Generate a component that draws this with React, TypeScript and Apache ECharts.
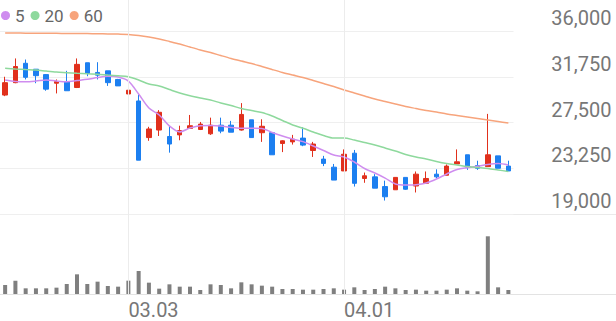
import React, { useEffect, useRef } from "react";
import * as echarts from "echarts";

const dates = [
  "02.10", "02.15", "02.16", "02.17", "02.18", "02.19", "02.22", "02.23", "02.24", "02.25",
  "02.26", "03.02", "03.03", "03.04", "03.05", "03.08", "03.09", "03.10", "03.11", "03.12",
  "03.15", "03.16", "03.17", "03.18", "03.19", "03.22", "03.23", "03.24", "03.25", "03.26",
  "03.29", "03.30", "03.31", "04.01", "04.02", "04.05", "04.06", "04.07", "04.08", "04.09",
  "04.12", "04.13", "04.14", "04.15", "04.16", "04.19", "04.20", "04.21", "04.22", "04.23",
];
const tickLabels = ["03.03", "04.01"];

const opens = [
  30050, 31200, 33000, 32450, 31950, 31150, 31300, 30750, 33050, 32150,
  32300, 31500, 30150, 29500, 26100, 26800, 26200, 26350, 26950, 26850,
  26450, 27250, 27250, 26800, 27750, 26550, 26550, 25550, 25700, 26050,
  24900, 24100, 23350, 23000, 24650, 22300, 22450, 21550, 21250, 22400,
  21600, 21850, 22700, 22600, 23650, 24500, 23500, 23400, 24400, 23450,
];
const closes = [
  31200, 32700, 31700, 31850, 30600, 31300, 30450, 32900, 32050, 31900,
  31200, 30900, 30500, 24000, 26900, 28450, 25500, 26750, 27200, 27350,
  27250, 26700, 26600, 28250, 26100, 27150, 24500, 25800, 25950, 25400,
  25500, 23700, 22150, 24550, 21850, 22550, 21400, 20600, 22400, 21300,
  22700, 22300, 22450, 23450, 23850, 23350, 23250, 24500, 23250, 23000,
];
const lows = [
  29950, 31150, 31500, 31150, 30450, 30200, 30450, 30700, 31800, 31500,
  30900, 30900, 29900, 24000, 25800, 26250, 24700, 25850, 26950, 26800,
  26350, 26500, 26600, 26750, 26100, 25700, 24500, 24750, 25450, 25300,
  24300, 23450, 22150, 23000, 21550, 21900, 21400, 20250, 21250, 21250,
  21000, 21850, 22300, 22600, 23650, 23100, 23100, 23400, 23250, 23000,
];
const highs = [
  31750, 33450, 33350, 32450, 32000, 31500, 32300, 33450, 33050, 33100,
  32300, 31550, 32400, 30100, 27100, 28650, 27200, 27200, 28200, 27550,
  27950, 27950, 27650, 29300, 27750, 27800, 26550, 25850, 26350, 27050,
  25700, 24400, 23650, 25000, 24950, 22850, 22700, 22100, 22400, 22400,
  22950, 22950, 23150, 23600, 25000, 24500, 23950, 28300, 24400, 23950,
];
const ma5 = [
  31450, 31310, 31290, 31350, 31450, 31350, 31290, 31400, 31510, 31680,
  31800, 31730, 31350, 30150, 28850, 28200, 27170, 26620, 26990, 27200,
  27220, 27170, 27030, 26960, 26960, 26940, 26570, 26250, 25970, 25720,
  25320, 24900, 24480, 24300, 23830, 23230, 22810, 22340, 21790, 21690,
  21720, 21880, 22250, 22720, 23130, 23300, 23430, 23600, 23690, 23550,
];
const ma20 = [
  32530, 32470, 32420, 32380, 32280, 32190, 32130, 32070, 32020, 31990,
  31910, 31840, 31750, 31450, 31080, 30890, 30560, 30240, 29990, 29780,
  29590, 29310, 29080, 28800, 28610, 28430, 28100, 27690, 27270, 26960,
  26620, 26290, 26060, 26060, 25870, 25640, 25410, 25130, 24850, 24530,
  24290, 24110, 23880, 23690, 23550, 23410, 23320, 23230, 23090, 22950,
];
const ma60 = [
  35810, 35810, 35800, 35790, 35790, 35780, 35770, 35770, 35760, 35750,
  35730, 35710, 35680, 35580, 35440, 35260, 35030, 34790, 34510, 34240,
  34000, 33720, 33450, 33210, 32980, 32700, 32420, 32150, 31910, 31680,
  31400, 31120, 30840, 30520, 30240, 29960, 29680, 29450, 29220, 28990,
  28800, 28610, 28480, 28290, 28150, 28010, 27870, 27730, 27590, 27450,
];
const volumes = [
  27000, 40000, 17000, 17000, 17000, 19000, 30000, 59000, 30000, 37000,
  24000, 22000, 40000, 69000, 34000, 16000, 29000, 22000, 22000, 12000,
  29000, 27000, 17000, 35000, 29000, 25000, 22000, 15000, 15000, 13000,
  13000, 15000, 17000, 13000, 20000, 12000, 15000, 22000, 17000, 12000,
  13000, 10000, 10000, 13000, 17000, 10000, 8000, 173000, 20000, 12000,
];

const UP = "#e1301c";
const DOWN = "#1c7ff0";
const FONT = "Roboto";

export default function App() {
  const ref = useRef<HTMLDivElement>(null);
  useEffect(() => {
    if (!ref.current) return;
    const chart = echarts.init(ref.current, undefined, { renderer: "svg" });
    const candles = dates.map((_, i) => [opens[i], closes[i], lows[i], highs[i]]);
    const showTick = (idx: number) => tickLabels.indexOf(dates[idx]) >= 0;
    chart.setOption({
      animation: false,
      legend: {
        left: 1,
        top: 7,
        padding: 0,
        itemWidth: 9,
        itemHeight: 9,
        itemGap: 6,
        textStyle: { fontSize: 17, color: "#666", fontFamily: FONT },
        data: [
          { name: "5", icon: "circle" },
          { name: "20", icon: "circle" },
          { name: "60", icon: "circle" },
        ],
      },
      grid: [
        { left: 0, right: 102.5, top: 31, height: 183 },
        { left: 0, right: 102.5, top: 0, height: 294 },
      ],
      xAxis: [
        {
          type: "category",
          gridIndex: 0,
          data: dates,
          boundaryGap: true,
          axisLine: { show: false },
          axisTick: { show: false },
          axisLabel: { show: false },
          splitLine: { show: false },
        },
        {
          type: "category",
          gridIndex: 1,
          data: dates,
          boundaryGap: true,
          axisLine: { show: false },
          axisTick: { show: false },
          splitLine: { show: false },
          axisLabel: {
            interval: (idx: number) => showTick(idx),
            align: "left",
            verticalAlign: "top",
            margin: 8,
            lineHeight: 16,
            fontSize: 20,
            color: "#777",
            fontFamily: FONT,
          },
        },
      ],
      yAxis: [
        {
          type: "value",
          gridIndex: 0,
          position: "right",
          min: 19000,
          max: 36000,
          interval: 4250,
          axisLine: { show: false },
          axisTick: { show: false },
          splitLine: { show: true, lineStyle: { color: "#efefef", width: 1 } },
          axisLabel: {
            align: "right",
            verticalAlign: "bottom",
            margin: 98,
            padding: [0, 0, 3, 0],
            fontSize: 20,
            color: "#777",
            fontFamily: FONT,
            formatter: (v: number) => String(Math.round(v)).replace(/\B(?=(\d{3})+(?!\d))/g, ","),
          },
        },
        {
          type: "value",
          gridIndex: 1,
          min: 0,
          max: 881500,
          show: false,
          splitLine: { show: false },
        },
      ],
      graphic: [
        { type: "line", shape: { x1: 0, y1: 214.5, x2: 616, y2: 214.5 }, style: { stroke: "#eaeaea", lineWidth: 1 }, z: 0 },
        { type: "line", shape: { x1: 0, y1: 294.5, x2: 616, y2: 294.5 }, style: { stroke: "#e3e3e3", lineWidth: 1 }, z: 0 },
      ],
      series: [
        {
          type: "bar",
          name: "volume",
          xAxisIndex: 1,
          yAxisIndex: 1,
          data: volumes,
          barWidth: 4,
          z: 1,
          itemStyle: { color: "#7f7f7f" },
          markLine: {
            silent: true,
            symbol: "none",
            label: { show: false },
            lineStyle: { color: "#ececec", type: "solid", width: 1 },
            emphasis: { disabled: true },
            data: tickLabels.map((d) => ({ xAxis: d })),
          },
        },
        {
          type: "candlestick",
          name: "price",
          xAxisIndex: 0,
          yAxisIndex: 0,
          data: candles,
          barWidth: 5,
          z: 3,
          itemStyle: {
            color: UP,
            color0: DOWN,
            borderColor: UP,
            borderColor0: DOWN,
            borderWidth: 1,
          },
        },
        {
          type: "line",
          name: "5",
          xAxisIndex: 0,
          yAxisIndex: 0,
          data: ma5,
          smooth: 0.3,
          showSymbol: false,
          z: 4,
          color: "#cf8def",
          lineStyle: { width: 1.5, color: "#cf8def" },
        },
        {
          type: "line",
          name: "20",
          xAxisIndex: 0,
          yAxisIndex: 0,
          data: ma20,
          smooth: 0.3,
          showSymbol: false,
          z: 4,
          color: "#8ed99d",
          lineStyle: { width: 1.5, color: "#8ed99d" },
        },
        {
          type: "line",
          name: "60",
          xAxisIndex: 0,
          yAxisIndex: 0,
          data: ma60,
          smooth: 0.3,
          showSymbol: false,
          z: 4,
          color: "#f7a47c",
          lineStyle: { width: 1.5, color: "#f7a47c" },
        },
      ],
    });
    return () => chart.dispose();
  }, []);
  return (
    <div
      ref={ref}
      style={{ position: "fixed", left: 0, top: 0, width: 616, height: 321, background: "#fff" }}
    />
  );
}
